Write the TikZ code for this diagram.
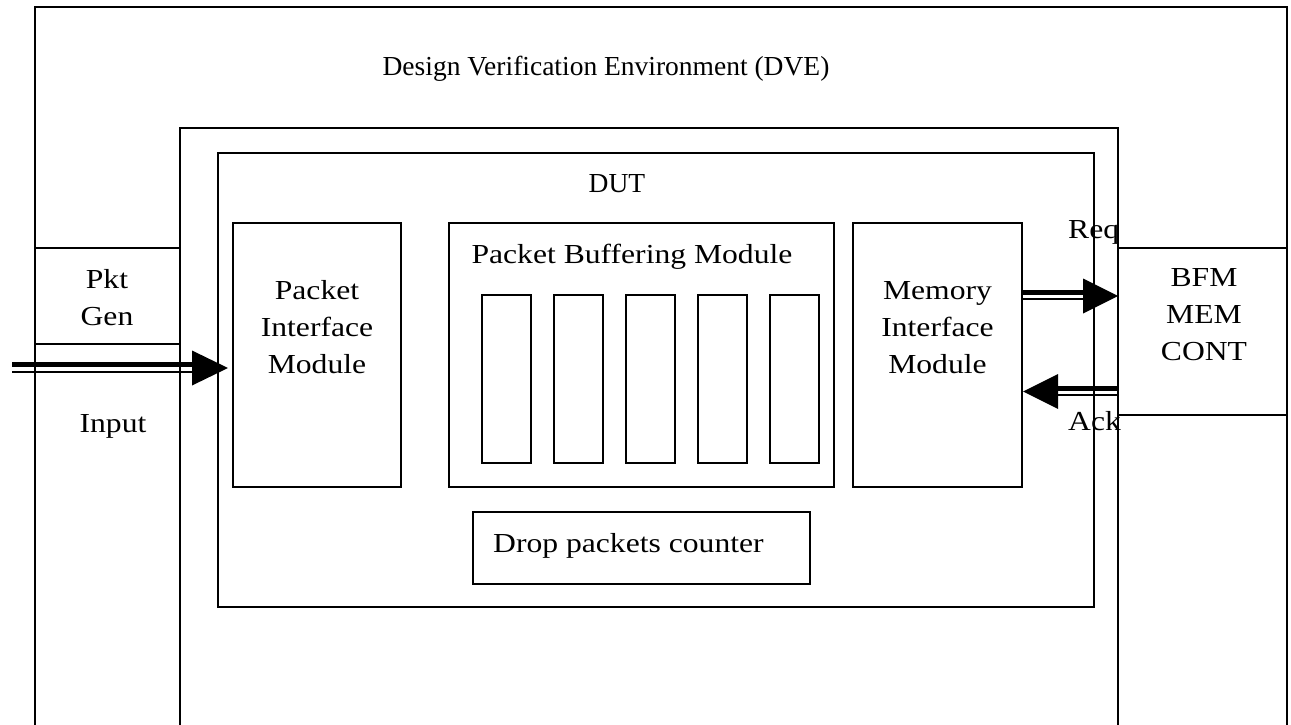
\documentclass[tikz,border=0pt]{standalone}
\usepackage{fontspec}
\setmainfont{Liberation Serif}
\newfontfamily\lblfont{Liberation Serif}[FakeStretch=1.15]
\usetikzlibrary{calc}

\begin{document}
\begin{tikzpicture}[x=1pt, y=-1pt,
  frame/.style={line width=1.8pt},
  box/.style={draw, line width=1.6pt, inner sep=0pt, outer sep=0pt},
  busthick/.style={line width=5pt},
  busthin/.style={line width=2.5pt},
  lbl/.style={font=\lblfont\fontsize{27.5}{37}\selectfont, inner sep=0pt, align=center},
  ttl/.style={font=\fontsize{27.5}{33}\selectfont, inner sep=0pt}]

\useasboundingbox (0,0) rectangle (1291,725);

% open-bottom environment frames
\draw[frame] (35,725) |- (1287,7) -- (1287,725);
\draw[frame] (180,725) |- (1118,128) -- (1118,725);

% boxes
\node[box, minimum width=876pt, minimum height=454pt] (dut) at (656,380) {};
\node[box, minimum width=168pt, minimum height=264pt] (pim) at (317,355) {};
\node[box, minimum width=385pt, minimum height=264pt] (pbm) at (641.5,355) {};
\node[box, minimum width=169pt, minimum height=264pt] (mim) at (937.5,355) {};
\foreach \i/\x in {1/506.5, 2/578.5, 3/650.5, 4/722.5, 5/794.5}
  \node[box, minimum width=49pt, minimum height=168pt] (buf\i) at (\x,379) {};
\node[box, minimum width=337pt, minimum height=72pt] (drop) at (641.5,548) {};
\node[box, minimum width=145pt, minimum height=96pt] (pktgen) at (107.5,296) {};
\node[box, minimum width=169pt, minimum height=167pt] (bfm) at (1202.5,331.5) {};

% labels
\node[ttl, anchor=base] (title) at (606,76) {Design Verification Environment (DVE)};
\node[ttl, anchor=base] (dutlbl) at (617,192) {DUT};
\node[lbl, anchor=base] (pbmlbl) at (632,263) {Packet Buffering Module};
\node[lbl, anchor=base] (pimlbl) at (317,373) {Packet\\Interface\\Module};
\node[lbl, anchor=base] (mimlbl) at (937.5,373) {Memory\\Interface\\Module};
\node[lbl, anchor=base west] (droplbl) at (493,552) {Drop packets counter};
\node[lbl, anchor=base] (pktlbl) at (107,325) {Pkt\\Gen};
\node[lbl, anchor=base] (inlbl) at (113,432) {Input};
\node[lbl, anchor=base] (bfmlbl) at (1204,360) {BFM\\MEM\\CONT};
\node[lbl, anchor=base west] (reqlbl) at (1068,238) {Req};
\node[lbl, anchor=base west] (acklbl) at (1068,430) {Ack};

% input bus into the packet interface
\coordinate (inTail) at (12,368);
\coordinate (inTip) at ($(pim.west |- inTail)+(-5,0)$);
\draw[busthick] ($(inTail)+(0,-3.5)$) -- ($(inTip)+(-34,-3.5)$);
\draw[busthin] ($(inTail)+(0,4)$) -- ($(inTip)+(-34,4)$);
\fill (inTip) -- ++(-36,-17.5) -- ++(0,35) -- cycle;

% request bus to the memory controller model
\coordinate (reqTail) at (mim.east |- 0,296);
\coordinate (reqTip) at (bfm.west |- reqTail);
\draw[busthick] ($(reqTail)+(0,-3.5)$) -- ($(reqTip)+(-33,-3.5)$);
\draw[busthin] ($(reqTail)+(0,3)$) -- ($(reqTip)+(-33,3)$);
\fill (reqTip) -- ++(-35,-17.5) -- ++(0,35) -- cycle;

% acknowledge bus back to the memory interface
\coordinate (ackTail) at (bfm.west |- 0,391.5);
\coordinate (ackTip) at ($(mim.east |- ackTail)+(1,0)$);
\draw[busthick] ($(ackTail)+(0,-3.5)$) -- ($(ackTip)+(33,-3.5)$);
\draw[busthin] ($(ackTail)+(0,3.5)$) -- ($(ackTip)+(33,3.5)$);
\fill (ackTip) -- ++(35,-17.5) -- ++(0,35) -- cycle;

\end{tikzpicture}
\end{document}
